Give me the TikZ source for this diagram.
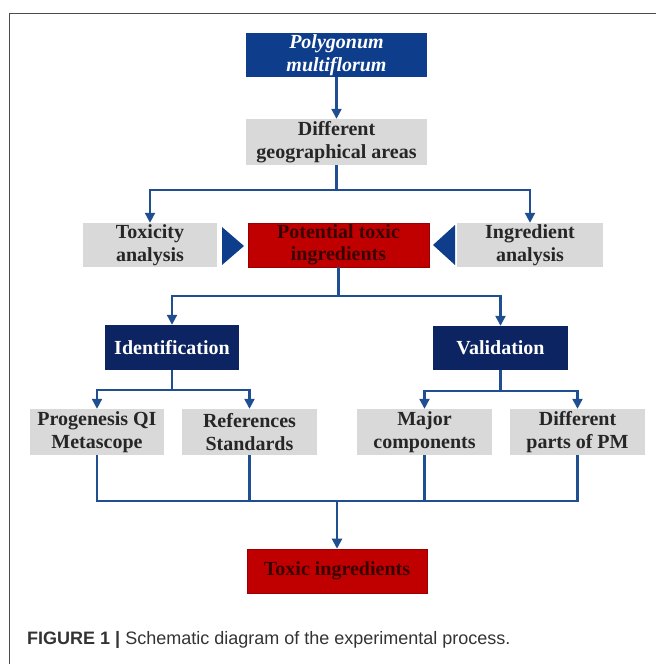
\documentclass[tikz,border=0pt]{standalone}
\usepackage{fontspec}
\setmainfont{Liberation Serif}
\newfontfamily\capfont{Liberation Sans}
\usetikzlibrary{arrows.meta}
\definecolor{pmblue}{HTML}{0E3D8C}
\definecolor{navy}{HTML}{0C2461}
\definecolor{boxred}{HTML}{C00000}
\definecolor{boxgray}{HTML}{D9D9D9}
\definecolor{linkblue}{HTML}{1F4E91}
\definecolor{redtext}{HTML}{3A0000}
\tikzset{
  box/.style={inner sep=0pt, align=center, font=\fontsize{20}{22.5}\selectfont\bfseries},
  graybox/.style={box, fill=boxgray, text=black!85},
  bluebox/.style={box, fill=pmblue, text=white},
  navybox/.style={box, fill=navy, text=white},
  redbox/.style={box, fill=boxred, draw=boxred!80!black, line width=0.6pt, text=redtext},
  link/.style={draw=linkblue, line width=2.2pt},
  arrowlink/.style={link, -{Triangle[length=10pt,width=10pt]}},
  pointer/.style={fill=pmblue}
}
\begin{document}
\begin{tikzpicture}[x=1pt,y=-1pt]
\useasboundingbox (0,0) rectangle (656,664);
% frame
\draw[black!70, line width=1pt] (9,664) -- (9,13) -- (656,13);

\node[bluebox, minimum width=181pt, minimum height=44pt] (pm) at (336.5,55) {\itshape Polygonum\\\itshape multiflorum};
\node[graybox, minimum width=181pt, minimum height=46pt] (geo) at (336.5,142) {Different\\geographical areas};
\node[graybox, minimum width=134pt, minimum height=44pt] (tox) at (150,245) {Toxicity\\analysis};
\node[redbox, minimum width=181pt, minimum height=44pt] (pot) at (338.5,245) {Potential toxic\\ingredients};
\node[graybox, minimum width=146pt, minimum height=44pt] (ing) at (530,245) {Ingredient\\analysis};
\node[navybox, minimum width=134pt, minimum height=45pt] (idf) at (172,347.5) {Identification};
\node[navybox, minimum width=135pt, minimum height=44pt] (val) at (500.5,348) {Validation};
\node[graybox, minimum width=134pt, minimum height=46pt] (prog) at (97,432) {Progenesis QI\\Metascope};
\node[graybox, minimum width=135pt, minimum height=46pt] (ref) at (249.5,432) {References\\Standards};
\node[graybox, minimum width=135pt, minimum height=46pt] (maj) at (424.5,432) {Major\\components};
\node[graybox, minimum width=135pt, minimum height=46pt] (parts) at (577.5,432) {Different\\parts of PM};
\node[redbox, minimum width=180pt, minimum height=44pt] (toxic) at (337,571) {Toxic ingredients};

% triangles
\fill[pointer] (222,227) -- (244,246) -- (222,265) -- cycle;
\fill[pointer] (455,225) -- (433,245) -- (455,265) -- cycle;

% connectors
\draw[arrowlink] (pm.south) -- (geo.north);

\coordinate (b1) at (336.5,190);
\draw[link] (geo.south) -- (b1);
\draw[arrowlink] (b1) -| (tox.north);
\draw[arrowlink] (b1) -| (ing.north);

\coordinate (b2) at (338.5,296);
\draw[link] (pot.south) -- (b2);
\draw[arrowlink] (b2) -| (idf.north);
\draw[arrowlink] (b2) -| (val.north);

\coordinate (b3) at (172,390);
\draw[link] (idf.south) -- (b3);
\draw[arrowlink] (b3) -| (prog.north);
\draw[arrowlink] (b3) -| (ref.north);

\coordinate (b4) at (500.5,391);
\draw[link] (val.south) -- (b4);
\draw[arrowlink] (b4) -| (maj.north);
\draw[arrowlink] (b4) -| (parts.north);

\coordinate (b5) at (337,501);
\draw[link] (prog.south) |- (b5);
\draw[link] (parts.south) |- (b5);
\draw[link] (ref.south) -- (ref.south |- b5);
\draw[link] (maj.south) -- (maj.south |- b5);
\draw[arrowlink] (b5) -- (toxic.north);

% caption
\node[anchor=west, inner sep=0pt, font=\capfont\fontsize{18}{21}\selectfont, text=black!80] (cap) at (27,640)
  {\textbf{FIGURE 1 |} Schematic diagram of the experimental process.};
\end{tikzpicture}
\end{document}
